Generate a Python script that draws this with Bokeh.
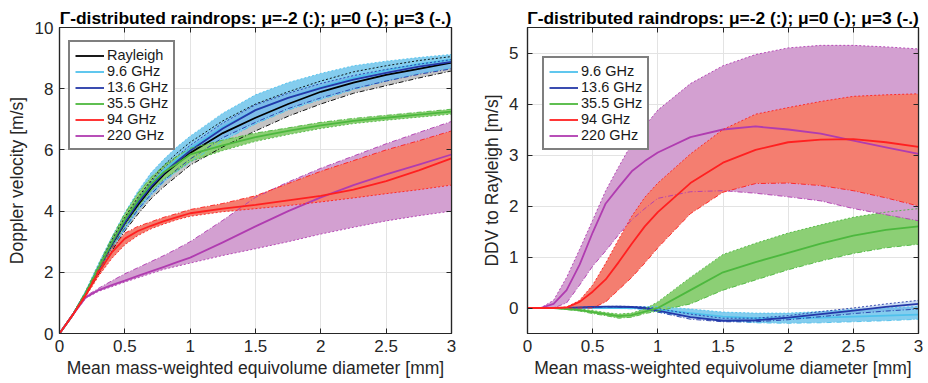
from bokeh.plotting import figure
from bokeh.models import LinearAxis, Range1d, Legend, LegendItem, FixedTicker
from bokeh.layouts import row
from bokeh.embed import file_html
from bokeh.resources import INLINE

FONT = "Liberation Sans"
AX = "#262626"
TITLE = "Γ-distributed raindrops: μ=-2 (:); μ=0 (-); μ=3 (-.)"

# ---------------- data ----------------
D = [0, 0.1, 0.2, 0.3, 0.4, 0.5, 0.6, 0.7, 0.8, 0.9, 1.0, 1.25, 1.5, 1.75, 2.0, 2.25, 2.5, 2.75, 3.0]

x_ticks = [0, 0.5, 1, 1.5, 2, 2.5, 3]
x_tick_labels = ["0", "0.5", "1", "1.5", "2", "2.5", "3"]
y_ticks_left = [0, 2, 4, 6, 8, 10]
y_ticks_right = [0, 1, 2, 3, 4, 5]

series_left = ["Rayleigh", "9.6 GHz", "13.6 GHz", "35.5 GHz", "94 GHz", "220 GHz"]
series_right = ["9.6 GHz", "13.6 GHz", "35.5 GHz", "94 GHz", "220 GHz"]

# Doppler velocity [m/s] (left panel)
ray_mu0 = [0, 0.6, 1.3, 2.1, 2.9, 3.6, 4.2, 4.75, 5.2, 5.55, 5.9, 6.55, 7.05, 7.5, 7.9, 8.2, 8.45, 8.65, 8.85]
ray_mum2 = [0, 0.62, 1.35, 2.2, 3.05, 3.8, 4.45, 5.0, 5.5, 5.9, 6.25, 6.95, 7.5, 7.9, 8.25, 8.55, 8.75, 8.92, 9.05]
ray_mup3 = [0, 0.58, 1.25, 1.95, 2.7, 3.35, 3.9, 4.4, 4.8, 5.15, 5.5, 6.1, 6.62, 7.1, 7.5, 7.85, 8.1, 8.35, 8.58]

x96_mu0 = [0, 0.6, 1.32, 2.15, 2.95, 3.68, 4.35, 4.9, 5.35, 5.7, 6.05, 6.75, 7.3, 7.7, 8.05, 8.35, 8.6, 8.8, 8.95]
x96_mum2 = [0, 0.63, 1.4, 2.3, 3.15, 3.95, 4.65, 5.25, 5.7, 6.1, 6.45, 7.2, 7.8, 8.2, 8.5, 8.75, 8.9, 9.02, 9.12]
x96_mup3 = [0, 0.57, 1.25, 2.0, 2.75, 3.4, 4.0, 4.5, 4.95, 5.3, 5.6, 6.3, 6.85, 7.3, 7.65, 7.97, 8.25, 8.5, 8.68]

ku_mu0 = [0, 0.6, 1.3, 2.1, 2.92, 3.63, 4.27, 4.8, 5.25, 5.62, 5.97, 6.7, 7.3, 7.7, 8.02, 8.3, 8.52, 8.72, 8.88]
ku_mum2 = [0, 0.61, 1.33, 2.17, 3.02, 3.75, 4.4, 4.95, 5.42, 5.8, 6.15, 6.88, 7.47, 7.85, 8.17, 8.43, 8.63, 8.8, 8.95]
ku_mup3 = [0, 0.58, 1.26, 2.02, 2.8, 3.45, 4.05, 4.55, 5.0, 5.37, 5.7, 6.4, 6.9, 7.35, 7.7, 8.0, 8.25, 8.47, 8.65]

ka_mu0 = [0, 0.6, 1.32, 2.15, 2.97, 3.72, 4.35, 4.88, 5.28, 5.55, 5.85, 6.15, 6.42, 6.62, 6.8, 6.95, 7.05, 7.15, 7.25]
ka_mum2 = [0, 0.58, 1.26, 2.05, 2.82, 3.52, 4.12, 4.65, 5.05, 5.32, 5.62, 5.98, 6.28, 6.5, 6.7, 6.86, 6.97, 7.07, 7.17]
ka_mup3 = [0, 0.62, 1.38, 2.25, 3.12, 3.92, 4.58, 5.1, 5.5, 5.8, 6.05, 6.32, 6.55, 6.72, 6.9, 7.03, 7.13, 7.23, 7.33]

w_mu0 = [0, 0.6, 1.25, 2.0, 2.65, 3.1, 3.35, 3.52, 3.67, 3.8, 3.93, 4.08, 4.2, 4.35, 4.5, 4.7, 4.98, 5.33, 5.72]
w_mum2 = [0, 0.58, 1.2, 1.88, 2.45, 2.9, 3.2, 3.42, 3.58, 3.72, 3.83, 3.98, 4.08, 4.18, 4.3, 4.43, 4.57, 4.7, 4.85]
w_mup3 = [0, 0.62, 1.3, 2.1, 2.78, 3.28, 3.5, 3.65, 3.8, 3.92, 4.05, 4.25, 4.5, 4.9, 5.3, 5.65, 6.0, 6.3, 6.62]

g_mu0 = [0, 0.6, 1.18, 1.42, 1.58, 1.73, 1.88, 2.03, 2.18, 2.33, 2.48, 2.98, 3.5, 4.0, 4.45, 4.85, 5.2, 5.52, 5.85]
g_mum2 = [0, 0.58, 1.15, 1.38, 1.53, 1.68, 1.82, 1.96, 2.1, 2.2, 2.3, 2.55, 2.77, 3.0, 3.25, 3.47, 3.68, 3.85, 4.0]
g_mup3 = [0, 0.62, 1.22, 1.48, 1.72, 1.95, 2.15, 2.35, 2.55, 2.77, 3.0, 3.7, 4.45, 4.95, 5.4, 5.8, 6.2, 6.57, 6.93]

# DDV to Rayleigh [m/s] (right panel)
dx96_mu0 = [0, 0, 0, 0, 0, 0, 0, 0, 0.005, 0.0, -0.03, -0.1, -0.17, -0.2, -0.2, -0.19, -0.17, -0.15, -0.13]
dx96_mum2 = [0, 0, 0, 0, 0, 0.003, 0.005, 0.01, 0.02, 0.025, 0.03, -0.02, -0.08, -0.1, -0.1, -0.07, -0.03, 0.0, 0.03]
dx96_mup3 = [0, 0, 0, 0, 0, -0.003, -0.005, -0.01, -0.015, -0.03, -0.08, -0.18, -0.25, -0.29, -0.3, -0.29, -0.27, -0.25, -0.22]

dku_mu0 = [0, 0, 0, 0, 0.01, 0.02, 0.025, 0.025, 0.02, 0.0, -0.05, -0.18, -0.25, -0.24, -0.19, -0.12, -0.05, 0.02, 0.08]
dku_mum2 = [0, 0, 0, 0, 0.012, 0.025, 0.03, 0.035, 0.03, 0.02, -0.01, -0.12, -0.2, -0.2, -0.15, -0.07, 0.0, 0.08, 0.15]
dku_mup3 = [0, 0, 0, 0, 0.008, 0.015, 0.02, 0.015, 0.01, -0.02, -0.08, -0.22, -0.27, -0.27, -0.23, -0.17, -0.11, -0.06, -0.02]

dka_mu0 = [0, 0, 0, -0.02, -0.04, -0.08, -0.12, -0.16, -0.14, -0.07, 0.0, 0.35, 0.7, 0.9, 1.08, 1.26, 1.42, 1.53, 1.6]
dka_mum2 = [0, 0, 0, -0.01, -0.02, -0.05, -0.09, -0.12, -0.1, -0.02, 0.12, 0.6, 1.05, 1.27, 1.47, 1.63, 1.78, 1.88, 1.95]
dka_mup3 = [0, 0, 0, -0.03, -0.06, -0.11, -0.15, -0.2, -0.18, -0.11, -0.06, 0.08, 0.35, 0.55, 0.75, 0.92, 1.07, 1.18, 1.25]

dw_mu0 = [0, 0, 0, 0.01, 0.12, 0.32, 0.56, 0.9, 1.26, 1.6, 1.88, 2.45, 2.85, 3.1, 3.25, 3.3, 3.31, 3.25, 3.16]
dw_mum2 = [0, 0, 0, 0.02, 0.15, 0.45, 0.88, 1.35, 1.8, 2.17, 2.45, 3.02, 3.5, 3.8, 3.93, 4.05, 4.15, 4.18, 4.2]
dw_mup3 = [0, 0, 0, 0, 0, 0.0, 0.12, 0.36, 0.6, 0.88, 1.18, 1.85, 2.27, 2.44, 2.45, 2.4, 2.3, 2.16, 2.0]

dg_mu0 = [0, 0, 0.08, 0.35, 0.85, 1.48, 2.05, 2.37, 2.68, 2.88, 3.05, 3.35, 3.5, 3.56, 3.5, 3.42, 3.28, 3.15, 3.02]
dg_mum2 = [0, 0, 0.15, 0.6, 1.15, 1.72, 2.3, 2.77, 3.22, 3.57, 3.88, 4.4, 4.75, 4.97, 5.1, 5.15, 5.15, 5.12, 5.08]
dg_mup3 = [0, 0, 0, 0.1, 0.45, 0.82, 1.12, 1.44, 1.73, 1.95, 2.15, 2.28, 2.3, 2.25, 2.18, 2.1, 1.95, 1.83, 1.71]

# ---------------- styles ----------------
line_colors = {"Rayleigh": "#000000", "9.6 GHz": "#4FC1EC", "13.6 GHz": "#2438A8",
               "35.5 GHz": "#4DB83E", "94 GHz": "#FF2020", "220 GHz": "#B03CB0"}
band_colors = {"Rayleigh": "#C4C4C4", "9.6 GHz": "#84CDEE", "13.6 GHz": "#6E9FE0",
               "35.5 GHz": "#8CCF75", "94 GHz": "#F47E70", "220 GHz": "#D3A0D1"}
band_alpha = {"Rayleigh": 1.0, "9.6 GHz": 1.0, "13.6 GHz": 0.35,
              "35.5 GHz": 1.0, "94 GHz": 1.0, "220 GHz": 1.0}

HEIGHT = 382


def make_fig(width, yr, yticks, ylabel, bl, br, ystand, ylabstand):
    p = figure(width=width, height=HEIGHT, x_range=Range1d(0, 3), y_range=Range1d(*yr),
               output_backend="svg", toolbar_location=None,
               min_border_left=bl, min_border_right=br, min_border_top=27, min_border_bottom=49,
               background_fill_color="white", border_fill_color="white")
    p.title.text = TITLE
    p.title.align = "center"
    p.title.text_font = FONT
    p.title.text_font_size = "17.4px"
    p.title.text_font_style = "bold"
    p.title.text_color = "#000000"
    p.title.standoff = 0
    p.outline_line_color = AX
    p.outline_line_width = 1.2
    for ax in (p.xaxis[0], p.yaxis[0]):
        ax.axis_line_color = AX
        ax.axis_line_width = 1.2
        ax.major_tick_line_color = AX
        ax.major_tick_in = 5
        ax.major_tick_out = 0
        ax.minor_tick_line_color = None
        ax.major_label_text_font = FONT
        ax.major_label_text_font_size = "17px"
        ax.major_label_text_color = AX
        ax.axis_label_text_font = FONT
        ax.axis_label_text_font_size = "17.5px"
        ax.axis_label_text_font_style = "normal"
        ax.axis_label_text_color = AX
    p.xaxis.ticker = FixedTicker(ticks=x_ticks)
    p.xaxis.major_label_overrides = {float(t): s for t, s in zip(x_ticks, x_tick_labels)}
    p.xaxis.axis_label = "Mean mass-weighted equivolume diameter [mm]"
    p.xaxis.major_label_standoff = 6
    p.xaxis.axis_label_standoff = 3
    p.yaxis.ticker = FixedTicker(ticks=yticks)
    p.yaxis.axis_label = ylabel
    p.yaxis.major_label_standoff = ystand
    p.yaxis.axis_label_standoff = ylabstand
    p.xgrid.ticker = FixedTicker(ticks=x_ticks)
    p.ygrid.ticker = FixedTicker(ticks=yticks)
    p.grid.grid_line_color = "#E3E3E3"
    p.grid.grid_line_width = 1
    # box ticks on top and right (tick marks only)
    for loc, tk in (("right", yticks), ("above", x_ticks)):
        a = LinearAxis(ticker=FixedTicker(ticks=tk), major_label_text_font_size="1px",
                       major_label_overrides={float(t): "" for t in tk},
                       major_label_standoff=0, major_tick_in=5, major_tick_out=0,
                       minor_tick_line_color=None, axis_line_color=AX, axis_line_width=1.2,
                       major_tick_line_color=AX)
        p.add_layout(a, loc)
    return p


def draw(p, name, mu0, mum2, mup3):
    p.varea(x=D, y1=mum2, y2=mup3, fill_color=band_colors[name], fill_alpha=band_alpha[name])


def draw_lines(p, name, mu0, mum2, mup3):
    c = line_colors[name]
    p.line(D, mum2, line_color=c, line_width=1, line_dash="2 2", line_alpha=0.9)
    p.line(D, mup3, line_color=c, line_width=1, line_dash="5 2 1 2", line_alpha=0.9)
    return p.line(D, mu0, line_color=c, line_width=1.8, line_join="round")


def add_legend(p, names, rends, loc):
    leg = Legend(items=[LegendItem(label=n, renderers=[r]) for n, r in zip(names, rends)],
                 location=loc, border_line_color="#000000", border_line_width=2,
                 background_fill_color="white", background_fill_alpha=1,
                 label_text_font=FONT, label_text_font_size="14.5px", label_text_color="#1a1a1a",
                 glyph_width=29, glyph_height=15, label_height=15, spacing=0, padding=5,
                 label_standoff=3, margin=0)
    p.add_layout(leg)


# ---------------- left panel ----------------
p1 = make_fig(468, (0, 10), y_ticks_left, "Doppler velocity [m/s]", 59, 17, 6, 5)
left = [("Rayleigh", ray_mu0, ray_mum2, ray_mup3), ("9.6 GHz", x96_mu0, x96_mum2, x96_mup3),
        ("13.6 GHz", ku_mu0, ku_mum2, ku_mup3), ("35.5 GHz", ka_mu0, ka_mum2, ka_mup3),
        ("220 GHz", g_mu0, g_mum2, g_mup3), ("94 GHz", w_mu0, w_mum2, w_mup3)]
for s in left:
    draw(p1, *s)
r1 = {}
for s in left:
    r1[s[0]] = draw_lines(p1, *s)
add_legend(p1, series_left, [r1[n] for n in series_left], (9, 183))

# ---------------- right panel ----------------
p2 = make_fig(458, (-0.5, 5.5), y_ticks_right, "DDV to Rayleigh [m/s]", 59, 8, 9, 4)
right = [("9.6 GHz", dx96_mu0, dx96_mum2, dx96_mup3), ("13.6 GHz", dku_mu0, dku_mum2, dku_mup3),
         ("35.5 GHz", dka_mu0, dka_mum2, dka_mup3), ("220 GHz", dg_mu0, dg_mum2, dg_mup3),
         ("94 GHz", dw_mu0, dw_mum2, dw_mup3)]
for s in right:
    draw(p2, *s)
r2 = {}
for s in right:
    r2[s[0]] = draw_lines(p2, *s)
add_legend(p2, series_right, [r2[n] for n in series_right], (15, 183))

layout = row(p1, p2)
open("out.html", "w").write(file_html(layout, INLINE))
